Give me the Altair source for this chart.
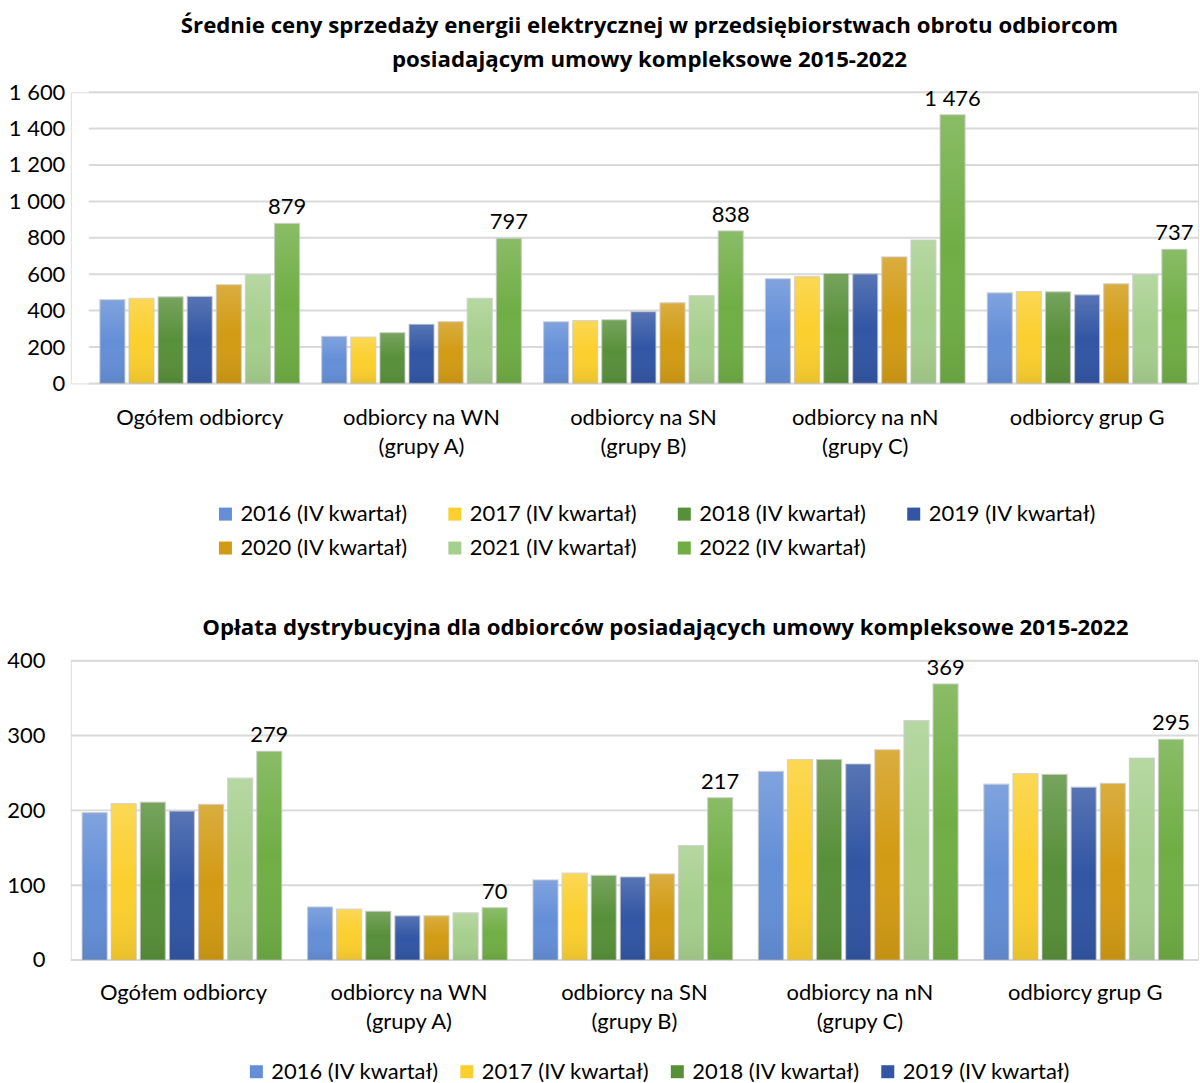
import altair as alt
import pandas as pd

FONT = "Lato"
TITLE_FONT = "Open Sans"

categories = [
    "Ogółem odbiorcy",
    "odbiorcy na WN (grupy A)",
    "odbiorcy na SN (grupy B)",
    "odbiorcy na nN (grupy C)",
    "odbiorcy grup G",
]
years = [
    "2016 (IV kwartał)", "2017 (IV kwartał)", "2018 (IV kwartał)", "2019 (IV kwartał)",
    "2020 (IV kwartał)", "2021 (IV kwartał)", "2022 (IV kwartał)",
]
colors = ["#648fd7", "#fbcf2e", "#58903a", "#3256a4", "#d29b14", "#a6cf8d", "#70ae45"]

# Średnie ceny sprzedaży energii elektrycznej (per year, per category)
price_2016 = [460, 259, 339, 575, 498]
price_2017 = [467, 254, 345, 587, 505]
price_2018 = [476, 279, 350, 604, 503]
price_2019 = [478, 325, 394, 602, 487]
price_2020 = [542, 339, 443, 695, 547]
price_2021 = [598, 467, 482, 788, 598]
price_2022 = [879, 797, 838, 1476, 737]

# Opłata dystrybucyjna
dist_2016 = [197, 71, 107, 252, 235]
dist_2017 = [209, 68, 116, 268, 249]
dist_2018 = [211, 65, 113, 268, 248]
dist_2019 = [199, 59, 111, 262, 231]
dist_2020 = [208, 59, 115, 281, 236]
dist_2021 = [243, 63, 153, 320, 270]
dist_2022 = [279, 70, 217, 369, 295]

price_series = [price_2016, price_2017, price_2018, price_2019, price_2020, price_2021, price_2022]
dist_series = [dist_2016, dist_2017, dist_2018, dist_2019, dist_2020, dist_2021, dist_2022]

title_top = [
    "Średnie ceny sprzedaży energii elektrycznej w przedsiębiorstwach obrotu odbiorcom",
    "posiadającym umowy kompleksowe 2015-2022",
]
title_bottom = "Opłata dystrybucyjna dla odbiorców posiadających umowy kompleksowe 2015-2022"

ticks_top = [0, 200, 400, 600, 800, 1000, 1200, 1400, 1600]
ticks_bottom = [0, 100, 200, 300, 400]


def long_table(series):
    rows = []
    for y, vals in zip(years, series):
        for c, v in zip(categories, vals):
            rows.append({"kategoria": c, "rok": y, "wartosc": v})
    return pd.DataFrame(rows)


LABEL_EXPR = ("indexof(datum.label, ' (') > 0 ? "
              "[substring(datum.label, 0, indexof(datum.label, ' (')), "
              "substring(datum.label, indexof(datum.label, ' (') + 1)] : datum.label")
NUM_EXPR = "replace(format(datum.value, ','), ',', ' ')"

TXT = 22
W = 1130

shade = alt.Gradient(
    gradient="linear",
    stops=[
        alt.GradientStop(color="rgba(255,255,255,0.18)", offset=0),
        alt.GradientStop(color="rgba(255,255,255,0.0)", offset=0.5),
        alt.GradientStop(color="rgba(0,0,0,0.07)", offset=1),
    ],
    x1=0, x2=0, y1=0, y2=1,
)


def panel(df, ymax, ticks, title, x_start, height, label_pad, x_label_pad,
          title_offset, title_dx, legend_x, legend_y, col_pad):
    x = alt.X("kategoria:N", sort=categories,
              scale=alt.Scale(range=[x_start, W], paddingInner=0.1, paddingOuter=0.05),
              axis=alt.Axis(title=None, labelAngle=0, labelExpr=LABEL_EXPR,
                            labelFontSize=TXT, labelFont=FONT, labelColor="#000000",
                            labelLineHeight=29, labelPadding=x_label_pad, ticks=False,
                            domain=False, grid=False))
    xo = alt.XOffset("rok:N", sort=years, scale=alt.Scale(paddingInner=0.14, paddingOuter=0))
    y = alt.Y("wartosc:Q", scale=alt.Scale(domain=[0, ymax], nice=False),
              axis=alt.Axis(title=None, values=ticks, labelExpr=NUM_EXPR,
                            labelFontSize=TXT, labelFont=FONT, labelColor="#000000",
                            labelPadding=label_pad, ticks=False, domain=False,
                            grid=False, minExtent=70, maxExtent=70))
    color = alt.Color("rok:N", sort=years,
                      scale=alt.Scale(domain=years, range=colors),
                      legend=alt.Legend(title=None, orient="none", legendX=legend_x,
                                        legendY=legend_y, direction="horizontal",
                                        columns=4, columnPadding=col_pad, rowPadding=12,
                                        symbolType="square", symbolSize=170,
                                        symbolStrokeWidth=0, labelFontSize=TXT,
                                        labelFont=FONT, labelColor="#000000",
                                        labelOffset=4, labelLimit=300))
    grid_df = pd.DataFrame({"wartosc": ticks})
    grid = alt.Chart(grid_df).mark_rule(color="#d9d9d9", strokeWidth=2).encode(
        y=y, x=alt.value(x_start), x2=alt.value(W))
    base = alt.Chart(df)
    bars = base.mark_bar(stroke="#c8c8c8", strokeWidth=1.2, strokeOpacity=0.7).encode(
        x=x, xOffset=xo, y=y, color=color)
    overlay = base.mark_bar(color=shade).encode(x=x, xOffset=xo, y=y)
    labels = base.transform_filter(
        alt.datum.rok == years[-1]
    ).transform_calculate(
        txt="replace(format(datum.wartosc, ','), ',', ' ')"
    ).mark_text(baseline="bottom", dy=-4, fontSize=TXT, font=FONT, color="#000000").encode(
        x=x, xOffset=xo, y=y, text="txt:N")
    return alt.layer(grid, bars, overlay, labels).properties(
        width=W, height=height,
        title=alt.TitleParams(text=title, fontSize=22.3, font=TITLE_FONT, fontWeight="bold",
                              color="#000000", lineHeight=34, anchor="middle",
                              offset=title_offset, dx=title_dx),
    )


top = panel(long_table(price_series), 1600, ticks_top, title_top, 18, 292,
            label_pad=6, x_label_pad=24, title_offset=10, title_dx=15,
            legend_x=144, legend_y=412, col_pad=36)
bottom = panel(long_table(dist_series), 400, ticks_bottom, title_bottom, 0, 300,
               label_pad=26, x_label_pad=23, title_offset=11, title_dx=31,
               legend_x=175, legend_y=401, col_pad=17)

chart = alt.vconcat(top, bottom, spacing=56).resolve_scale(
    color="independent"
).resolve_legend(color="independent").properties(
    padding={"left": 0, "top": 13, "right": 0, "bottom": 0}
).configure_view(stroke=None).configure(background="white")

chart.save("out.html", embed_options={"renderer": "svg", "actions": False})
